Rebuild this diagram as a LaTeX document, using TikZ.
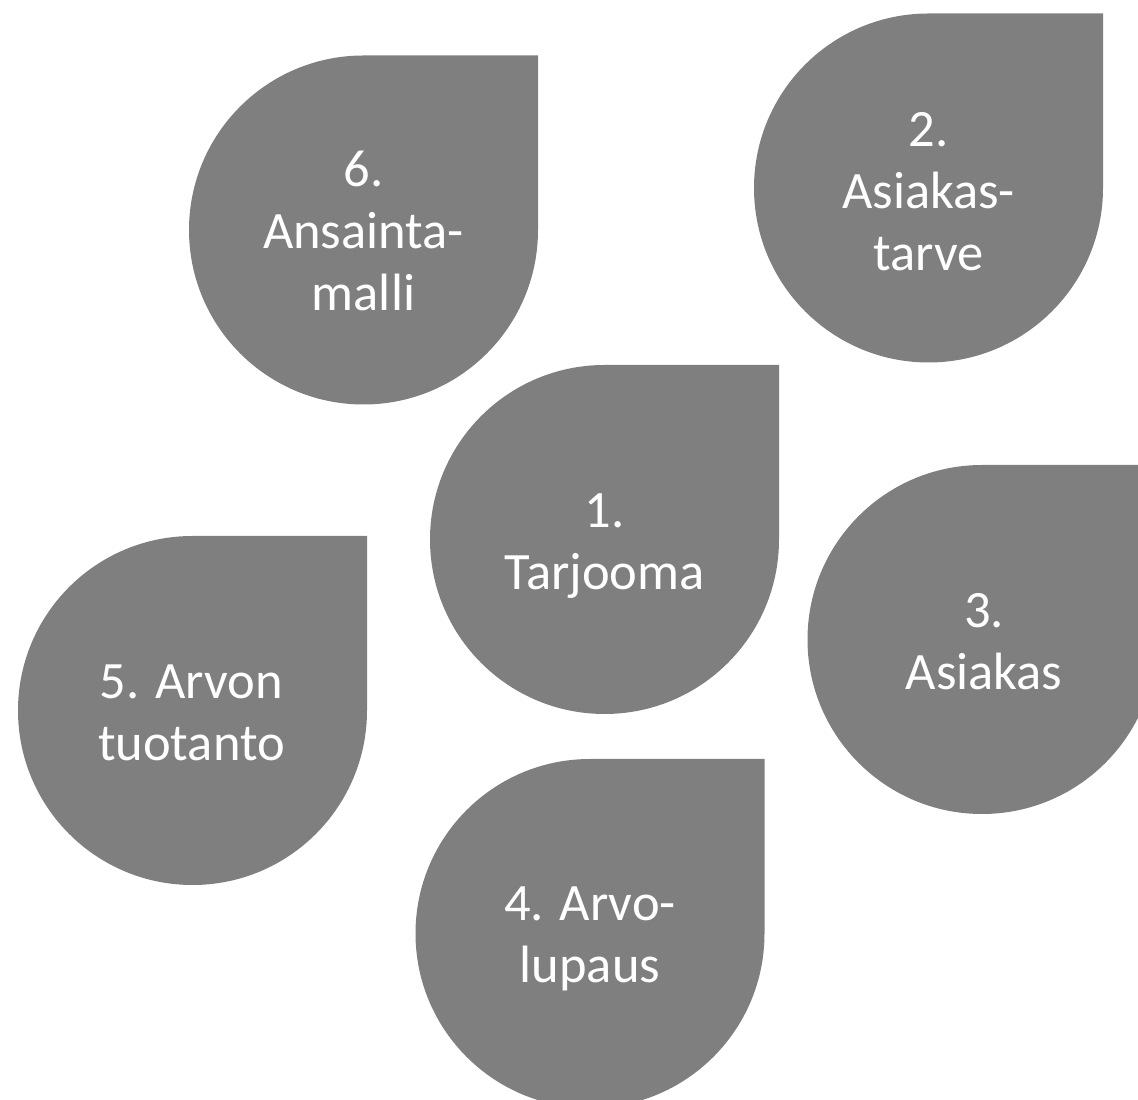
\documentclass[tikz,border=0pt]{standalone}
\usepackage{fontspec}
\setmainfont{Carlito}
\definecolor{dropgray}{RGB}{127,127,127}
\tikzset{
  x=1pt, y=1pt,
  dropfill/.style={fill=dropgray},
  droplabel/.style={text=white, align=center, inner sep=0pt,
    font=\fontsize{52.5}{62}\selectfont}
}
\begin{document}
\begin{tikzpicture}
  \useasboundingbox (0,0) rectangle (1138,1100);
  \clip (0,0) rectangle (1138,1100);
  % teardrops: a circle whose upper right quarter is a square corner
  \def\rad{174.5}
  \foreach \cx/\cy in {363.5/870, 928.5/912, 604.5/560.5, 982/460.5, 192.5/389.5, 590/166.5}{
    \fill[dropfill] (\cx+\rad,\cy) arc[start angle=0, end angle=-270, radius=\rad]
      -- (\cx+\rad,\cy+\rad) -- cycle;
  }
  \node[droplabel] (t6) at (363.5,869) {6.\\Ansainta-\\malli};
  \node[droplabel] (t2) at (928.5,908) {2.\\Asiakas-\\tarve};
  \node[droplabel] (t1) at (604.5,554) {1.\\Tarjooma};
  \node[droplabel] (t3) at (984,458) {3.\\Asiakas};
  \node[droplabel] (t5) at (191.5,387) {5. Arvon\\tuotanto};
  \node[droplabel] (t4) at (590,161) {4. Arvo-\\lupaus};
\end{tikzpicture}
\end{document}
